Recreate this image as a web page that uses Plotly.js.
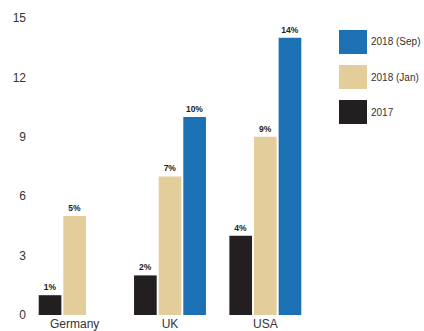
<!DOCTYPE html>
<html><head><meta charset="utf-8">
<script src="https://cdn.plot.ly/plotly-3.0.1.min.js"></script>
<style>html,body{margin:0;padding:0;background:#fff}#chart{width:424px;height:331px}</style>
</head><body><div id="chart"></div>
<script>
const categories = ['Germany', 'UK', 'USA'];
const series2017 = [1, 2, 4];
const seriesJan2018 = [5, 7, 9];
const seriesSep2018 = [null, 10, 14];
const seriesNames = ['2017', '2018 (Jan)', '2018 (Sep)'];
const seriesColors = ['#231f20', '#e3cd9b', '#1c71b4'];
const yTicks = [0, 3, 6, 9, 12, 15];

const allValues = [series2017, seriesJan2018, seriesSep2018];
const traces = allValues.map((vals, i) => ({
  type: 'bar', x: categories, y: vals, name: seriesNames[i],
  marker: {color: seriesColors[i]},
  text: vals.map(v => v == null ? '' : v + '%'),
  textposition: 'outside', cliponaxis: false,
  textfont: {family: 'Liberation Sans, Arial, sans-serif', size: 8.5, color: '#222', weight: 'bold'},
  showlegend: false
}));

// legend drawn as big swatches (top to bottom: reversed order)
const shapes = [], annotations = [];
const legendOrder = [2, 1, 0];
legendOrder.forEach((si, k) => {
  const yTop = 30 + k * 35;
  shapes.push({type: 'rect', xref: 'paper', yref: 'paper',
    x0: (339 - 27) / 286, x1: (367 - 27) / 286,
    y0: 1 - (yTop - 18) / 297, y1: 1 - (yTop + 24 - 18) / 297,
    fillcolor: seriesColors[si], line: {width: 0}});
  annotations.push({xref: 'paper', yref: 'paper', x: (369 - 27) / 286,
    y: 1 - (yTop + 12 - 18) / 297, xanchor: 'left', yanchor: 'middle',
    text: seriesNames[si], showarrow: false,
    font: {family: 'Liberation Sans, Arial, sans-serif', size: 10, color: '#333'}});
});

const layout = {
  width: 424, height: 331,
  margin: {l: 27, r: 111, t: 18, b: 16},
  paper_bgcolor: '#fff', plot_bgcolor: '#fff',
  barmode: 'group', bargap: 0.225, bargroupgap: 0.08,
  font: {family: 'Liberation Sans, Arial, sans-serif', size: 12, color: '#333'},
  xaxis: {type: 'category', showgrid: false, zeroline: false, showline: false, ticks: '',
    tickfont: {size: 12, color: '#333'}},
  yaxis: {range: [0, 15], tickvals: yTicks, showgrid: false, zeroline: false, showline: false,
    ticks: '', tickfont: {size: 12, color: '#333'}},
  shapes: shapes, annotations: annotations
};
Plotly.newPlot('chart', traces, layout, {displayModeBar: false, staticPlot: true});
</script></body></html>
